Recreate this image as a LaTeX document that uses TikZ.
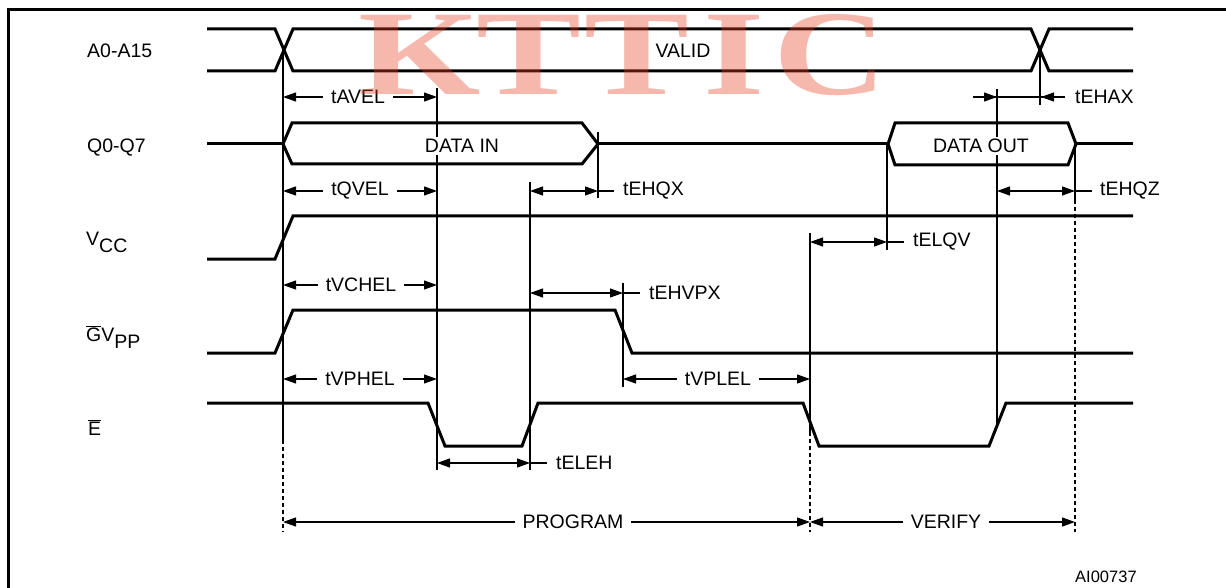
\documentclass[tikz,border=0pt]{standalone}
\usepackage{fontspec}
\setmainfont{Liberation Sans}
\newfontfamily\wmfont{Liberation Serif}
\usetikzlibrary{arrows.meta}
\definecolor{wmred}{RGB}{232,60,35}
\newcommand{\wmletter}[1]{\scalebox{1.3}[1]{#1}}
\begin{document}
\begin{tikzpicture}[x=1pt,y=-1pt,
 sig/.style={line width=3pt},
 guide/.style={line width=1.2pt},
 gdash/.style={line width=1.2pt, dash pattern=on 4pt off 3pt},
 dim/.style={line width=1.2pt, {Triangle[length=13pt,width=9pt]}-{Triangle[length=13pt,width=9pt]}},
 dimr/.style={line width=1.2pt, -{Triangle[length=13pt,width=9pt]}},
 lbl/.style={font=\fontsize{19.5}{23}\selectfont, inner sep=0pt},
 mlbl/.style={lbl, fill=white, inner xsep=8pt, inner ysep=2pt},
 sname/.style={lbl, anchor=west},
 bname/.style={lbl, anchor=base west},
 wm/.style={font=\wmfont\bfseries\fontsize{121}{121}\selectfont, text=wmred, text opacity=0.37, anchor=base, inner sep=0pt}
]
\fill[white] (0,0) rectangle (1226,588);
\useasboundingbox (0,0) rectangle (1226,588);
% frame (left and top edges; the rest lies outside the picture)
\fill[black] (6.5,8.5) rectangle (9.5,588);
\fill[black] (6.5,8.5) rectangle (1226,11.5);

% waveforms
\draw[sig] (207,29) -- (275,29) -- (293,71) -- (1031,71) -- (1049,29) -- (1133,29);
\draw[sig] (207,71) -- (275,71) -- (293,29) -- (1031,29) -- (1049,71) -- (1133,71);
\draw[sig] (207,144) -- (283,144);
\draw[sig] (283,144) -- (292,123) -- (582,123) -- (598,144) -- (582,164) -- (292,164) -- cycle;
\draw[sig] (598,144) -- (888,144);
\draw[sig] (888,144) -- (895,123) -- (1068,123) -- (1076,144) -- (1068,165) -- (895,165) -- cycle;
\draw[sig] (1076,144) -- (1133,144);
\draw[sig] (207,259) -- (275,259) -- (293,216) -- (1133,216);
\draw[sig] (207,353) -- (275,353) -- (293,310) -- (615,310) -- (632,353) -- (1133,353);
\draw[sig] (207,403) -- (428,403) -- (445,446) -- (522,446) -- (538,403) -- (803,403) -- (819,446) -- (989,446) -- (1006,403) -- (1133,403);

% guide lines
\draw[guide] (283,50) -- (283,440); \draw[gdash] (283,440) -- (283,532);
\draw[guide] (437,88) -- (437,470);
\draw[guide] (530,182) -- (530,470);
\draw[guide] (598,132) -- (598,198);
\draw[guide] (623,283) -- (623,387);
\draw[guide] (810,233) -- (810,432); \draw[gdash] (810,432) -- (810,532);
\draw[guide] (887,144) -- (887,250);
\draw[guide] (997,89) -- (997,425);
\draw[guide] (1040,50) -- (1040,105);
\draw[guide] (1075,144) -- (1075,200); \draw[gdash] (1075,200) -- (1075,532);

% dimension arrows
\draw[dim] (283,97) -- (437,97);
\draw[dim] (283,191) -- (437,191);
\draw[dim] (530,191) -- (598,191); \draw[guide] (598,191) -- (614,191);
\draw[guide] (973,97) -- (1065,97);
\draw[dimr] (973,97) -- (997,97); \draw[dimr] (1065,97) -- (1041,97);
\draw[dim] (997,191) -- (1075,191); \draw[guide] (1075,191) -- (1092,191);
\draw[dim] (810,242) -- (887,242); \draw[guide] (887,242) -- (904,242);
\draw[dim] (283,285) -- (437,285);
\draw[dim] (530,293) -- (623,293); \draw[guide] (623,293) -- (640,293);
\draw[dim] (283,379) -- (437,379);
\draw[dim] (623,379) -- (810,379);
\draw[dim] (437,463) -- (530,463); \draw[guide] (530,463) -- (547,463);
\draw[dim] (283,522) -- (810,522);
\draw[dim] (810,522) -- (1075,522);

% labels
\node[sname] (la) at (87,51) {A0-A15};
\node[bname] (lq) at (87,153) {Q0-Q7};
\node[bname] (lv) at (86,245) {V\raisebox{-7pt}{CC}};
\node[bname] (lg) at (86,341) {$\overline{\mbox{G}}$V\raisebox{-7pt}{PP}};
\node[bname] (le) at (88,435) {$\overline{\mbox{E}}$};
\node[lbl] (valid) at (683,51) {VALID};
\node[mlbl] (din) at (462,146) {DATA IN};
\node[mlbl] (dout) at (981,146) {DATA OUT};
\node[mlbl] (tavel) at (358,97) {tAVEL};
\node[mlbl] (tqvel) at (360,191) {tQVEL};
\node[sname] (tehqx) at (623,191) {tEHQX};
\node[sname] (tehax) at (1075,97) {tEHAX};
\node[sname] (tehqz) at (1100,191) {tEHQZ};
\node[sname] (telqv) at (913,242) {tELQV};
\node[mlbl] (tvchel) at (361,285) {tVCHEL};
\node[sname] (tehvpx) at (649,293) {tEHVPX};
\node[mlbl] (tvphel) at (360,379) {tVPHEL};
\node[mlbl] (tvplel) at (718,379) {tVPLEL};
\node[sname] (teleh) at (556,463) {tELEH};
\node[mlbl] (prog) at (573,522) {PROGRAM};
\node[mlbl] (verif) at (946,522) {VERIFY};
\node[font=\fontsize{16.5}{18}\selectfont, anchor=west, inner sep=0pt] (code) at (1075,577) {AI00737};

% watermark
\node[wm] (w1) at (420,95) {\wmletter{K}};
\node[wm] (w2) at (529,95) {\wmletter{T}};
\node[wm] (w3) at (637,95) {\wmletter{T}};
\node[wm] (w4) at (734,95) {\wmletter{I}};
\node[wm] (w5) at (830,95) {\wmletter{C}};
\end{tikzpicture}
\end{document}
